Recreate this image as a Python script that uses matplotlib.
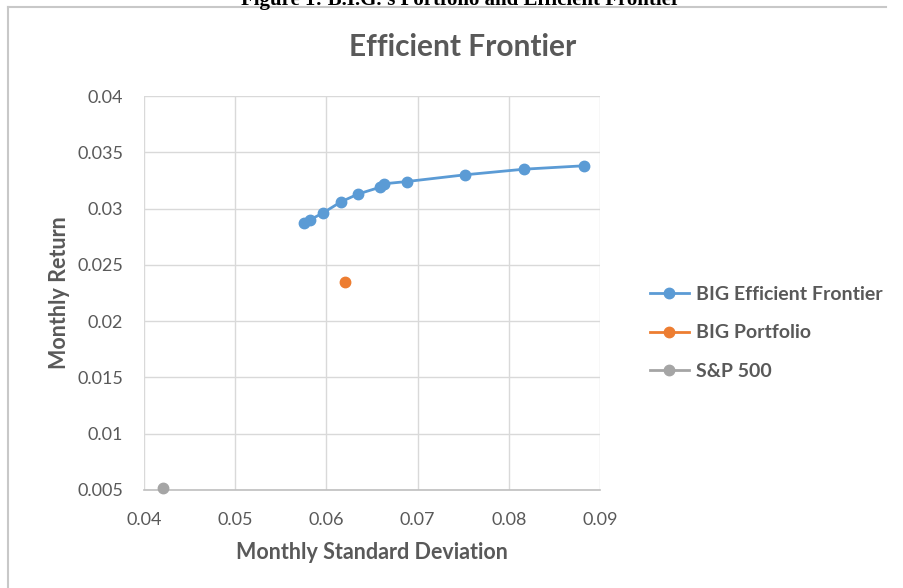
import matplotlib
matplotlib.use("Agg")
import matplotlib.pyplot as plt
from matplotlib.lines import Line2D

# values
frontier_sd = [0.0575, 0.0582, 0.0596, 0.0616, 0.0635, 0.0659, 0.0663, 0.0688, 0.0752, 0.0817, 0.0882]
frontier_ret = [0.0287, 0.0290, 0.0296, 0.0306, 0.0313, 0.0319, 0.0322, 0.0324, 0.0330, 0.0335, 0.0338]
portfolio_sd = [0.0620]
portfolio_ret = [0.0235]
sp500_sd = [0.0421]
sp500_ret = [0.0052]
series_names = ["BIG Efficient Frontier", "BIG Portfolio", "S&P 500"]
x_ticks = [0.04, 0.05, 0.06, 0.07, 0.08, 0.09]
y_ticks = [0.005, 0.01, 0.015, 0.02, 0.025, 0.03, 0.035, 0.04]

BLUE = "#5B9BD5"
ORANGE = "#ED7D31"
GRAY = "#A5A5A5"
TXT = "#595959"
FONT = "Lato"

W, H = 904, 588
fig = plt.figure(figsize=(W / 100, H / 100), dpi=100)
fig.patch.set_facecolor("white")

# px helpers
def fx(px):
    return px / W

def fy(py):
    return 1 - py / H

# chart border (partly cropped in the reference)
fig.add_artist(Line2D([fx(8), fx(886)], [fy(7), fy(7)], color="#C8C8C8", lw=1.5))
fig.add_artist(Line2D([fx(8), fx(8)], [fy(7), 0], color="#C8C8C8", lw=1.5))

# document caption, mostly cut off at the top
fig.text(fx(461), fy(5), "Figure 1: B.I.G.'s Portfolio and Efficient Frontier",
         ha="center", va="baseline", fontsize=15, fontweight="bold",
         family="Liberation Serif", color="black")

ax = fig.add_axes([fx(144), fy(490), fx(600) - fx(144), fy(96) - fy(490)])

ax.plot(frontier_sd, frontier_ret, color=BLUE, lw=2, marker="o", ms=7.5,
        label=series_names[0], zorder=3)
ax.plot(portfolio_sd, portfolio_ret, color=ORANGE, lw=2, marker="o", ms=7.5,
        label=series_names[1], zorder=3)
ax.plot(sp500_sd, sp500_ret, color=GRAY, lw=2, marker="o", ms=7.5,
        label=series_names[2], zorder=3, clip_on=False)

ax.set_xlim(0.04, 0.09)
ax.set_ylim(0.005, 0.04)
ax.set_xticks(x_ticks)
ax.set_yticks(y_ticks)
ax.set_xticklabels([f"{v:g}" for v in x_ticks])
ax.set_yticklabels([f"{v:g}" for v in y_ticks])
ax.grid(True, color="#D9D9D9", lw=1)
ax.set_axisbelow(True)
for s in ["top", "right", "left"]:
    ax.spines[s].set_visible(False)
ax.spines["bottom"].set_color("#BFBFBF")
ax.spines["bottom"].set_linewidth(1.2)
ax.tick_params(length=0, labelsize=13, labelcolor=TXT)
ax.tick_params(axis="y", pad=15)
ax.tick_params(axis="x", pad=16)
for lbl in ax.get_xticklabels() + ax.get_yticklabels():
    lbl.set_family(FONT)

ax.set_xlabel("Monthly Standard Deviation", fontsize=15.5, fontweight="bold",
              color=TXT, family=FONT, labelpad=10)
ax.set_ylabel("Monthly Return", fontsize=15.5, fontweight="bold",
              color=TXT, family=FONT, labelpad=5)

fig.text(fx(463), fy(47), "Efficient Frontier", ha="center", va="center",
         fontsize=21.5, fontweight="bold", color=TXT, family=FONT)

leg = ax.legend(loc="center left", bbox_to_anchor=(fx(640), fy(333)),
                bbox_transform=fig.transFigure, frameon=False,
                handlelength=2.0, handletextpad=0.4, labelspacing=1.1,
                borderpad=0.0,
                prop={"family": FONT, "weight": "bold", "size": 14})
for t in leg.get_texts():
    t.set_color(TXT)

fig.savefig("out.png", dpi=100, facecolor="white")
